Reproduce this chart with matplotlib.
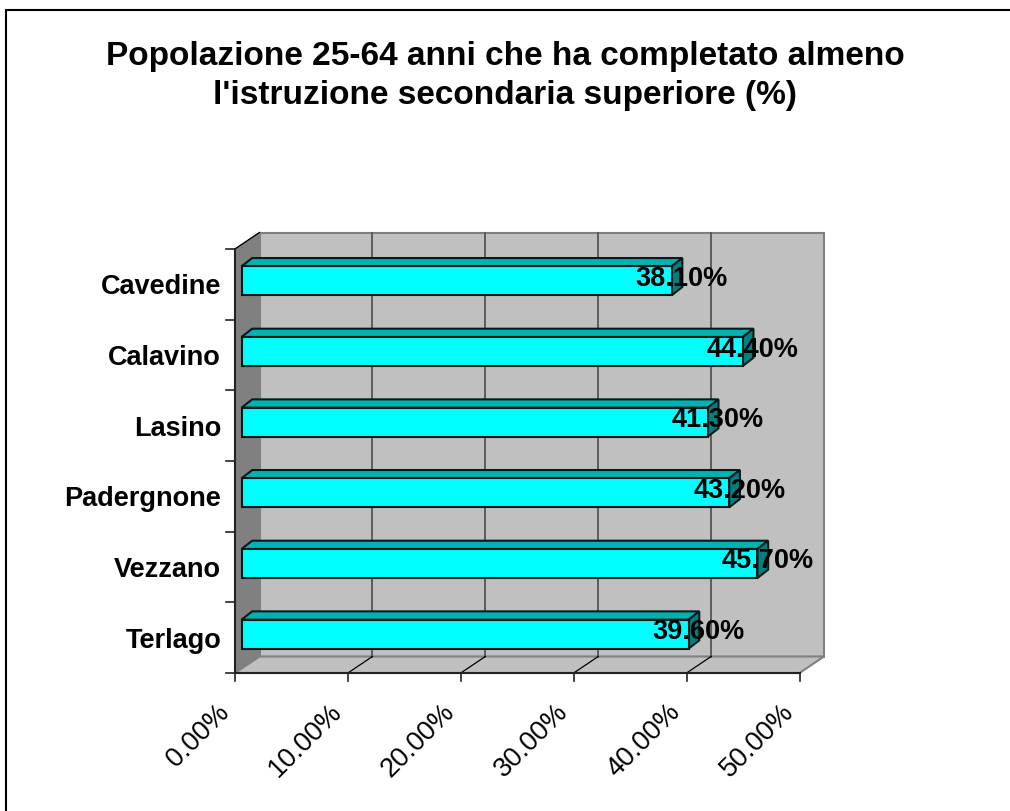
import matplotlib
matplotlib.use("Agg")
import matplotlib.pyplot as plt
from matplotlib.patches import Polygon, Rectangle

categories = ["Terlago", "Vezzano", "Padergnone", "Lasino", "Calavino", "Cavedine"]
values = [39.6, 45.7, 43.2, 41.3, 44.4, 38.1]
tick_pct = [0, 10, 20, 30, 40, 50]
title = "Popolazione 25-64 anni che ha completato almeno\nl'istruzione secondaria superiore (%)"

W = 1010
H = 811
plt.rcParams["font.family"] = ["Liberation Sans", "DejaVu Sans"]

fig = plt.figure(figsize=(W / 100, H / 100), dpi=100)

# front plane of the fake 3d box
left = 235
right = 799.5
top = 249
bottom = 673
ax = fig.add_axes([left / W, 1 - bottom / H, (right - left) / W, (bottom - top) / H])
ax.set_xlim(0, 50)
ax.set_ylim(0, 6)
ax.axis("off")

px = 50 / (right - left)
py = 6 / (bottom - top)
wall_dx = 24.5 * px
wall_dy = 16.5 * py


def poly(pts, fc, ec="none", lw=1.0, z=1):
    ax.add_patch(Polygon(pts, closed=True, fc=fc, ec=ec, lw=lw, zorder=z, clip_on=False))


# walls
poly([(wall_dx, wall_dy), (50 + wall_dx, wall_dy), (50 + wall_dx, 6 + wall_dy), (wall_dx, 6 + wall_dy)],
     "#c0c0c0", "#808080", 1.5)
poly([(0, 0), (wall_dx, wall_dy), (wall_dx, 6 + wall_dy), (0, 6)], "#808080", "#808080", 1.0)
poly([(0, 0), (50, 0), (50 + wall_dx, wall_dy), (wall_dx, wall_dy)], "#c0c0c0", "#808080", 1.5)

for t in tick_pct[1:-1]:
    ax.plot([t + wall_dx, t + wall_dx], [wall_dy, 6 + wall_dy], color="#555555", lw=1.3, zorder=2, clip_on=False)
for t in tick_pct[1:-1]:
    ax.plot([t, t + wall_dx], [0, wall_dy], color="black", lw=0.9, zorder=2, clip_on=False)

# axis lines and tick marks
ax.plot([0, 0], [0, 6], color="#222222", lw=1.5, zorder=3, clip_on=False)
ax.plot([0, 50], [0, 0], color="#222222", lw=1.5, zorder=3, clip_on=False)
ax.plot([0, wall_dx], [6, 6 + wall_dy], color="black", lw=0.9, zorder=3, clip_on=False)
for t in tick_pct:
    ax.plot([t, t], [0, -8 * py], color="#222222", lw=1.2, zorder=3, clip_on=False)
    ax.text(t - 19 * px, -26 * py, "%.2f%%" % t, rotation=45, ha="right", va="top", rotation_mode="anchor",
            fontsize=19.5, clip_on=False)
for i in range(7):
    ax.plot([-9 * px, 0], [i, i], color="#222222", lw=1.2, zorder=3, clip_on=False)

# bars, front face starts a little off the wall
bar_x0 = 6.5 * px
bar_off = 3.5 * py
bar_h = 29 * py
depth_x = 10.7 * px
depth_y = 8.3 * py
for i, (name, v) in enumerate(zip(categories, values)):
    y0 = i + 0.5 + bar_off - bar_h / 2
    y1 = y0 + bar_h
    x1 = bar_x0 + v
    poly([(bar_x0, y1), (x1, y1), (x1 + depth_x, y1 + depth_y), (bar_x0 + depth_x, y1 + depth_y)],
         "#00b3b3", "#0a1a1a", 1.5, 5)
    poly([(x1, y0), (x1 + depth_x, y0 + depth_y), (x1 + depth_x, y1 + depth_y), (x1, y1)],
         "#008080", "#0a1a1a", 1.5, 5)
    ax.add_patch(Rectangle((bar_x0, y0), v, bar_h, fc="#00ffff", ec="#0a1a1a", lw=1.5, zorder=6, clip_on=False))
    ax.text(x1 + 10 * px, (y0 + y1) / 2 + 2 * py, "%.2f%%" % v, ha="center", va="center", fontsize=19.5,
            fontweight="bold", zorder=8, clip_on=False)
    ax.text(-14 * px, i + 0.5 - 3 * py, name, ha="right", va="center", fontsize=19.5, fontweight="bold",
            clip_on=False)

fig.text(505 / W, 1 - 76 / H, title, ha="center", va="center", fontsize=24, fontweight="bold", linespacing=1.37)

# outer chart border, only top and left land on the canvas
fig.add_artist(Rectangle((6 / W, 1 - 830 / H), 1030 / W, 820 / H, transform=fig.transFigure,
                         fc="none", ec="black", lw=1.5, zorder=10))

fig.savefig("out.png", dpi=100)
